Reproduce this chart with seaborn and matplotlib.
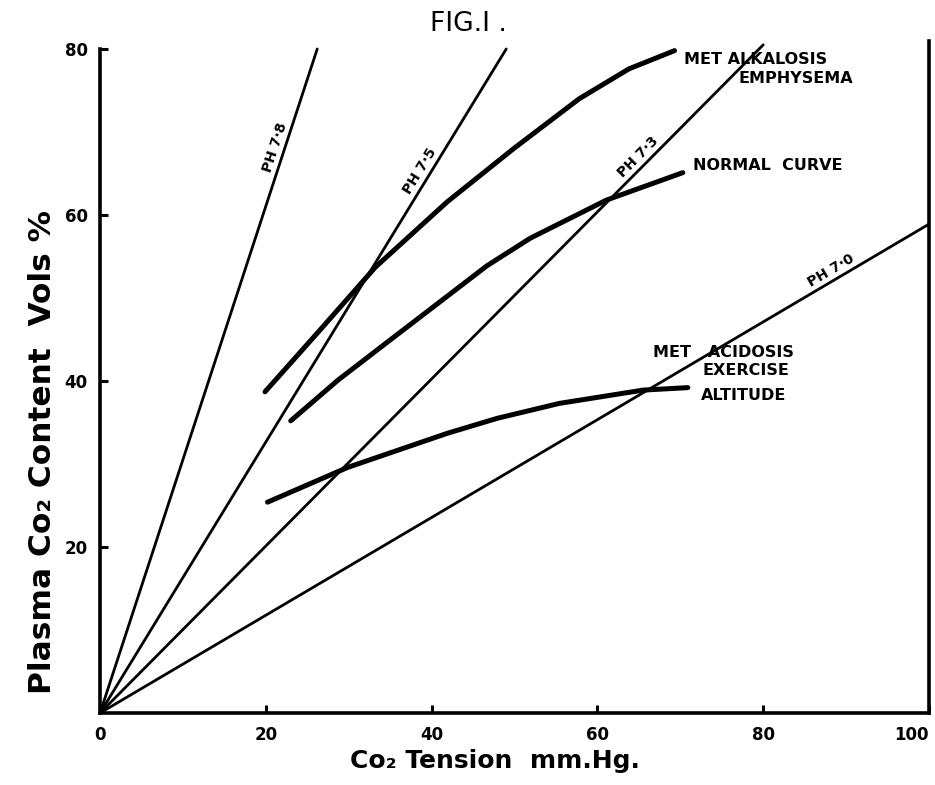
import numpy as np
import pandas as pd
import matplotlib
matplotlib.use("Agg")
import matplotlib.pyplot as plt
import seaborn as sns

# ---------------- data ----------------
ph_names = ["PH 7·8", "PH 7·5", "PH 7·3", "PH 7·0"]
ph78_x = [0.0, 26.2]
ph78_y = [0.0, 80.0]
ph75_x = [0.0, 49.0]
ph75_y = [0.0, 80.0]
ph73_x = [0.0, 80.0]
ph73_y = [0.0, 80.5]
ph70_x = [0.0, 100.0]
ph70_y = [0.0, 58.9]

alk_x = [19.9, 26.5, 33.2, 41.9, 49.9, 57.8, 63.8, 69.3]
alk_y = [38.7, 46.1, 53.7, 61.6, 68.0, 74.0, 77.6, 79.8]

norm_x = [23.0, 28.7, 33.9, 46.7, 51.9, 61.1, 70.3]
norm_y = [35.2, 40.1, 44.1, 53.9, 57.2, 61.8, 65.1]

acid_x = [20.2, 29.9, 41.9, 47.9, 55.4, 65.5, 70.9]
acid_y = [25.4, 29.6, 33.7, 35.5, 37.3, 38.9, 39.2]

x_ticks = [0, 20, 40, 60, 80, 100]
y_ticks = [20, 40, 60, 80]

# where along each pH line (x value) its label sits
ph_label_x = [22.2, 39.6, 65.7, 88.8]

curve_texts = ["MET ALKALOSIS", "EMPHYSEMA", "NORMAL  CURVE",
               "MET   ACIDOSIS", "EXERCISE", "ALTITUDE"]
curve_text_x = [70.4, 77.0, 71.5, 66.7, 72.7, 72.5]
curve_text_y = [78.7, 76.5, 66.0, 43.4, 41.3, 38.3]

# ---------------- styling ----------------
sns.set_theme(style="ticks")
plt.rcParams['font.family'] = ['DejaVu Sans']
plt.rcParams['text.color'] = 'black'
plt.rcParams['axes.labelcolor'] = 'black'
plt.rcParams['xtick.color'] = 'black'
plt.rcParams['ytick.color'] = 'black'

fig = plt.figure(figsize=(9.35, 7.85), dpi=100)
fig.patch.set_facecolor("white")
ax = fig.add_axes([0.107, 0.0917, 0.8866, 0.8565])
ax.set_facecolor("white")

ph_lines = [(ph78_x, ph78_y), (ph75_x, ph75_y), (ph73_x, ph73_y), (ph70_x, ph70_y)]
for (xs, ys), name in zip(ph_lines, ph_names):
    df = pd.DataFrame({"x": xs, "y": ys})
    sns.lineplot(data=df, x="x", y="y", ax=ax, color="black", lw=2.0,
                 sort=False, estimator=None, solid_capstyle="round")

for xs, ys in [(alk_x, alk_y), (norm_x, norm_y), (acid_x, acid_y)]:
    df = pd.DataFrame({"x": xs, "y": ys})
    sns.lineplot(data=df, x="x", y="y", ax=ax, color="black", lw=3.6,
                 sort=False, estimator=None, solid_capstyle="round",
                 solid_joinstyle="round")

ax.set_xlim(0, 100)
ax.set_ylim(0, 81)
ax.set_xticks(x_ticks)
ax.set_yticks(y_ticks)
ax.tick_params(axis="both", direction="in", length=6, width=2.2,
               labelsize=12, pad=9, colors="black")
for lab in ax.get_xticklabels() + ax.get_yticklabels():
    lab.set_fontweight("bold")
ax.get_xticklabels()[-1].set_horizontalalignment("right")

for side in ["left", "bottom", "right"]:
    ax.spines[side].set_linewidth(2.6)
    ax.spines[side].set_color("black")
ax.spines["top"].set_visible(False)
ax.spines["left"].set_bounds(0, 80)

ax.set_xlabel("Co₂ Tension  mm.Hg.", fontsize=18, fontweight="bold")
ax.set_ylabel("Plasma Co₂ Content  Vols %", fontsize=22.5, fontweight="bold")
ax.xaxis.set_label_coords(0.476, -0.054)
ax.yaxis.set_label_coords(-0.052, 0.388)

# pH labels rotated along their lines, sitting just above-left of them
fig.canvas.draw()
for (xs, ys), name, lx in zip(ph_lines, ph_names, ph_label_x):
    p0 = ax.transData.transform((xs[0], ys[0]))
    p1 = ax.transData.transform((xs[1], ys[1]))
    ang = np.degrees(np.arctan2(p1[1] - p0[1], p1[0] - p0[0]))
    ly = np.interp(lx, xs, ys)
    nx, ny = -np.sin(np.radians(ang)), np.cos(np.radians(ang))
    ax.annotate(name, xy=(lx, ly), xytext=(2.0 * nx, 2.0 * ny),
                textcoords="offset points", rotation=ang,
                rotation_mode="anchor", ha="center", va="bottom",
                fontsize=10, fontweight="bold")

for t, tx, ty in zip(curve_texts, curve_text_x, curve_text_y):
    ax.text(tx, ty, t, ha="left", va="center", fontsize=11.5,
            fontweight="bold", clip_on=False)

fig.text(0.5005, 0.969, "FIG.I .", ha="center", va="center", fontsize=19)

fig.savefig("out.png", dpi=100, facecolor="white")
